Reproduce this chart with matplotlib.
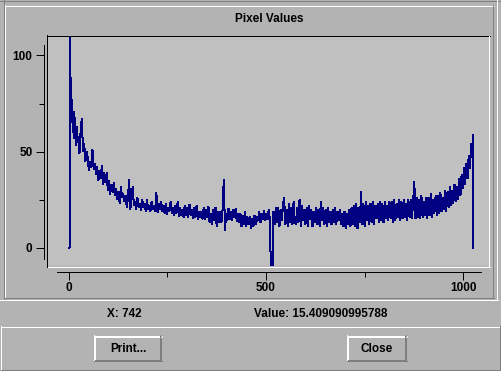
import matplotlib
matplotlib.use("Agg")
import matplotlib.pyplot as plt
from matplotlib.ticker import FixedLocator

W, H = 502, 371
BG = "#b3b3b3"
PLOT_BG = "#c0c0c0"
LINE = "#000080"
DARK = "#7f7f7f"
FONT = "Liberation Sans"

# ---------------- data ----------------
title = "Pixel Values"
x_major = [0, 500, 1000]
x_minor = [250, 750]
y_major = [0, 50, 100]
y_minor = [25, 75]
status_x = "X: 742"
status_value = "Value: 15.409090995788"
button_labels = ["Print...", "Close"]

# first samples, read one by one
head_idx = [0, 2, 3, 4, 6, 8, 10, 12, 14, 16, 18, 20, 22]
head_val = [0, 0, 150, 93, 65, 77, 60, 71, 57, 68, 53, 63, 55]

# main trace: samples every 3 pixel indices starting at index 24
trace_start = 24
trace_step = 3
trace_val = [
    58, 49, 61, 67, 50, 54, 45, 50,
    47, 40, 45, 42, 51, 41, 44, 38,
    42, 35, 40, 36, 43, 33, 39, 34,
    39, 30, 35, 28, 33, 29, 34, 27,
    31, 25, 29, 23, 32, 26, 28, 24,
    27, 21, 26, 35.6, 20, 25, 32, 22,
    24, 20, 26, 21, 23, 19.5, 25, 21,
    23, 19, 25, 20, 22, 19, 24, 20,
    22, 19, 28.5, 18.5, 23, 20, 24, 19,
    22, 18, 23, 17.5, 21, 19, 24, 18,
    21, 17, 22, 18, 24, 16.5, 21, 17,
    20, 16, 22, 17, 21, 16, 22.5, 17,
    20, 15.5, 21, 16, 22, 15, 19, 16,
    19, 15, 21, 14.5, 20, 16, 21.5, 13,
    18, 12, 20, 14, 21, 11, 19, 13,
    19, 13, 20, 35.6, 9, 18, 14, 20.5,
    15, 19, 14, 20, 16, 20.5, 13.5, 18,
    13, 18, 11, 17, 12, 19, 11, 16,
    12, 16, 10, 15, 11, 17, 12, 16,
    14, 19, 13, 18, 15, 19.5, 14, 18,
    15, 20, 14, -20, -20, 19, 12, 21,
    13, 21, 11, 20, 14, 22, 26, 12,
    20, 11, 23, 13, 21, 12, 24, 14,
    12, 21, 13, 25, 11, 22, 14, 20,
    12, 21, 11, 22, 15, 20, 11, 19,
    13, 21, 12, 20, 11, 24, 14, 21,
    12, 20, 11, 21, 13, 19, 12, 20,
    13, 21, 12, 19, 14, 20, 12, 18,
    11, 19, 10, 18, 12, 20, 11, 21,
    12, 22, 11, 23, 10, 21, 13, 29.3,
    12, 23, 11, 24, 14, 22, 12, 23,
    13, 24, 12, 22, 15, 23, 13, 24,
    14, 23, 13, 24, 15, 22, 14, 24,
    15, 24, 13, 25, 14, 23, 16, 25,
    14, 24, 15, 25, 16, 23, 14, 25,
    16, 25, 15, 24, 34.5, 15, 26, 16,
    25, 15, 27, 16, 24, 17, 26, 15,
    26, 17, 28, 16, 25, 18, 27, 17,
    27, 18, 29, 19, 26, 20, 30, 19,
    29, 21, 32, 22, 30, 23, 33, 24,
    32, 25, 36, 27, 38, 31, 42, 33,
    44, 36, 48, 41, 54, 47,
]

# last samples
tail_idx = [1024, 1025, 1026]
tail_val = [59, 0, 0]

# ---------------- build series ----------------
trace_idx = [trace_start + trace_step * k for k in range(len(trace_val))]
xs = head_idx + trace_idx + tail_idx
ys = head_val + trace_val + tail_val

# ---------------- figure ----------------
fig = plt.figure(figsize=(W / 100, H / 100), dpi=100)
fig.patch.set_facecolor(BG)


def rect(l, t, r, b):
    return [l / W, 1 - b / H, (r - l) / W, (b - t) / H]


under = fig.add_axes([0, 0, 1, 1], zorder=0)
under.set_xlim(0, W)
under.set_ylim(H, 0)
under.axis("off")

over = fig.add_axes([0, 0, 1, 1], zorder=5)
over.set_xlim(0, W)
over.set_ylim(H, 0)
over.axis("off")
over.patch.set_alpha(0)

PX = 0.72


def hline(ax, y, x0, x1, c, w=1):
    ax.plot([x0, x1], [y + 0.5, y + 0.5], color=c, lw=w * PX,
            solid_capstyle="butt", antialiased=False)


def vline(ax, x, y0, y1, c, w=1):
    ax.plot([x + 0.5, x + 0.5], [y0, y1], color=c, lw=w * PX,
            solid_capstyle="butt", antialiased=False)


def raised(ax, l, t, r, b, w=1, light="white", dark=DARK):
    for j in range(w):
        hline(ax, t + j, l + j, r - j, light)
        vline(ax, l + j, t + j, b - j, light)
        hline(ax, b - 1 - j, l + j, r - j, dark)
        vline(ax, r - 1 - j, t + j, b - j, dark)


# window / panels
hline(under, 0, 0, W, DARK)
vline(under, 4, 0, 300, DARK)
raised(under, 5, 5, 494, 298, 1)
hline(under, 299, 0, 498, "white")
vline(under, 497, 0, 300, "white")
raised(under, 1, 326, W - 1, 370, 1)

# buttons
for (l, r), lab in zip([(94, 162), (347, 407)], button_labels):
    raised(under, l, 335, r, 361, 2)
    under.text((l + r) / 2, 348.5, lab, ha="center", va="center",
               fontsize=8.5, fontweight="bold", family=FONT, color="black")

under.text(269.5, 19.5, title, ha="center", va="center", fontsize=8.5,
           fontweight="bold", family=FONT, color="black")
under.text(107.5, 314, status_x, ha="left", va="center", fontsize=8.5,
           fontweight="bold", family=FONT, color="black")
under.text(254.3, 314, status_value, ha="left", va="center", fontsize=8.5,
           fontweight="bold", family=FONT, color="black")

# plot area
ax = fig.add_axes(rect(48, 36, 489, 266), zorder=1)
ax.set_facecolor(PLOT_BG)
x0px, kx = 68.8, 0.3944
y0px, ky = 247.8, 1.923
ax.set_xlim((48 - x0px) / kx, (489 - x0px) / kx)
ax.set_ylim((y0px - 266) / ky, (y0px - 36) / ky)
ax.plot(xs, ys, color=LINE, lw=1 * PX, solid_joinstyle="miter",
        antialiased=False)

for s in ("top", "right"):
    ax.spines[s].set_visible(False)
ax.spines["left"].set_position(("outward", 3.5 * PX))
ax.spines["bottom"].set_position(("outward", 5.5 * PX))
ax.spines["left"].set_bounds((y0px - 259.3) / ky, (y0px - 45) / ky)
ax.spines["bottom"].set_bounds((57.3 - x0px) / kx, (481 - x0px) / kx)
for s in ("left", "bottom"):
    ax.spines[s].set_linewidth(1 * PX)
    ax.spines[s].set_color("black")
    ax.spines[s].set_antialiased(False)

ax.xaxis.set_major_locator(FixedLocator(x_major))
ax.xaxis.set_minor_locator(FixedLocator(x_minor))
ax.yaxis.set_major_locator(FixedLocator(y_major))
ax.yaxis.set_minor_locator(FixedLocator(y_minor))
ax.tick_params(which="major", direction="out", length=8 * PX, width=1 * PX,
               color="black", pad=2.5 * PX, labelsize=8.5)
ax.tick_params(which="minor", direction="out", length=5 * PX, width=1 * PX,
               color="black")
for lab in ax.get_xticklabels() + ax.get_yticklabels():
    lab.set_fontweight("bold")
    lab.set_family(FONT)
ax.tick_params(axis="y", pad=4 * PX)

# sunken frame around plot area
hline(over, 35, 47, 490, "black")
vline(over, 47, 35, 267, "black")
hline(over, 266, 48, 490, "white")
vline(over, 489, 36, 267, "white")

fig.savefig("out.png", dpi=100, facecolor=BG)
